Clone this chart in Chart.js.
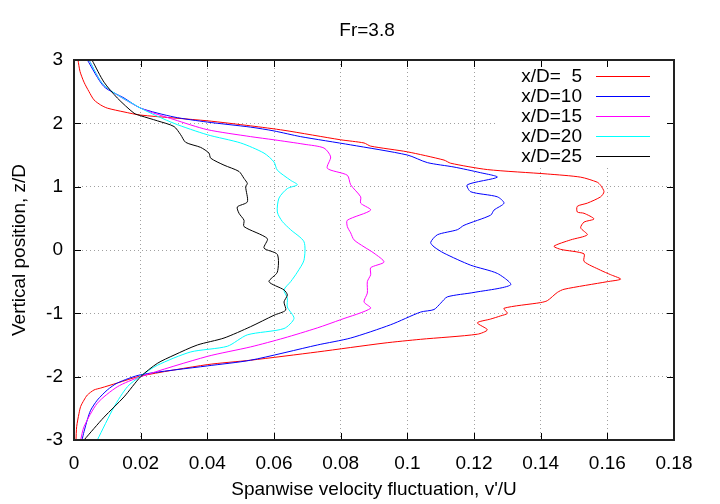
<!DOCTYPE html>
<html>
<head>
<meta charset="utf-8">
<script src="https://cdn.jsdelivr.net/npm/chart.js@4/dist/chart.umd.min.js"></script>
<style>
  html, body { margin: 0; padding: 0; background: #fff; }
  canvas { display: block; }
</style>
</head>
<body>
<canvas id="chart" width="720" height="504"></canvas>
<script>
// profiles of v'/U against z/D as [v'/U, z/D]
const labels = ['x/D=  5', 'x/D=10', 'x/D=15', 'x/D=20', 'x/D=25'];
const colors = ['#ff0000', '#0000ff', '#ff00ff', '#00ffff', '#000000'];

const profile5 = [
  [0.0012, 3.0], [0.0018, 2.82], [0.003, 2.65], [0.0045, 2.50], [0.006, 2.37],
  [0.008, 2.29], [0.010, 2.24], [0.015, 2.18],
  [0.020, 2.13], [0.040, 2.04], [0.053, 1.96], [0.063, 1.89], [0.080, 1.74],
  [0.087, 1.69], [0.089, 1.64], [0.100, 1.55], [0.111, 1.42], [0.113, 1.37],
  [0.124, 1.27], [0.142, 1.20], [0.152, 1.15], [0.157, 1.07], [0.158, 1.02],
  [0.159, 0.92], [0.158, 0.84], [0.154, 0.74], [0.151, 0.69], [0.151, 0.60],
  [0.153, 0.58], [0.156, 0.49], [0.153, 0.44], [0.152, 0.35], [0.154, 0.24],
  [0.149, 0.16], [0.144, 0.06], [0.146, 0.01], [0.153, -0.06], [0.153, -0.18],
  [0.158, -0.32], [0.161, -0.39], [0.164, -0.46], [0.160, -0.50], [0.147, -0.62],
  [0.145, -0.67], [0.142, -0.80], [0.140, -0.83], [0.129, -0.92], [0.130, -1.00],
  [0.128, -1.04], [0.125, -1.09], [0.121, -1.15], [0.124, -1.26], [0.121, -1.33],
  [0.104, -1.41], [0.093, -1.47], [0.073, -1.61], [0.053, -1.74], [0.040, -1.81],
  [0.020, -1.99], [0.013, -2.10], [0.008, -2.18], [0.006, -2.21], [0.004, -2.29],
  [0.003, -2.37], [0.002, -2.47], [0.0015, -2.58], [0.0008, -2.79], [0.0006, -3.0],
];

const profile10 = [
  [0.004, 3.0], [0.009, 2.58], [0.015, 2.40], [0.020, 2.24], [0.030, 2.10],
  [0.040, 2.02], [0.053, 1.94], [0.060, 1.88], [0.068, 1.79], [0.083, 1.66],
  [0.100, 1.50], [0.106, 1.38], [0.114, 1.31], [0.122, 1.22], [0.127, 1.15],
  [0.118, 1.03], [0.119, 0.92], [0.127, 0.84], [0.129, 0.74], [0.126, 0.63],
  [0.125, 0.55], [0.117, 0.39], [0.115, 0.32], [0.109, 0.24], [0.107, 0.12],
  [0.108, 0.05], [0.111, -0.05], [0.119, -0.24], [0.127, -0.37], [0.131, -0.55],
  [0.120, -0.67], [0.112, -0.74], [0.110, -0.84], [0.108, -0.94], [0.104, -0.98],
  [0.095, -1.18], [0.083, -1.39], [0.073, -1.50], [0.053, -1.74], [0.040, -1.83],
  [0.020, -1.97], [0.013, -2.10], [0.010, -2.21], [0.007, -2.37], [0.005, -2.53],
  [0.004, -2.68], [0.003, -2.87], [0.0024, -3.0],
];

const profile15 = [
  [0.0045, 3.0], [0.009, 2.60], [0.020, 2.24], [0.030, 2.06], [0.040, 1.90],
  [0.053, 1.79], [0.060, 1.74], [0.069, 1.67], [0.075, 1.61], [0.077, 1.47],
  [0.076, 1.29], [0.082, 1.18], [0.083, 1.03], [0.086, 0.84], [0.086, 0.74],
  [0.089, 0.63], [0.082, 0.47], [0.082, 0.37], [0.083, 0.27], [0.084, 0.16],
  [0.087, 0.05], [0.090, -0.05], [0.093, -0.19], [0.089, -0.28], [0.089, -0.39],
  [0.088, -0.50], [0.088, -0.68], [0.087, -0.82], [0.089, -0.92], [0.080, -1.10],
  [0.073, -1.23], [0.063, -1.39], [0.053, -1.53], [0.040, -1.68], [0.020, -2.00],
  [0.013, -2.16], [0.007, -2.42], [0.003, -2.79], [0.002, -3.0],
];

const profile20 = [
  [0.0045, 3.0], [0.009, 2.60], [0.020, 2.24], [0.030, 2.00], [0.040, 1.82],
  [0.050, 1.69], [0.057, 1.53], [0.060, 1.39], [0.061, 1.26], [0.065, 1.10],
  [0.067, 1.03], [0.064, 0.97], [0.0615, 0.82], [0.061, 0.60], [0.0625, 0.45],
  [0.065, 0.32], [0.069, 0.13], [0.069, -0.16], [0.067, -0.35], [0.065, -0.50],
  [0.063, -0.63], [0.064, -0.76], [0.064, -0.90], [0.066, -1.08], [0.063, -1.24],
  [0.052, -1.34], [0.046, -1.52], [0.035, -1.61], [0.025, -1.82], [0.020, -1.99],
  [0.016, -2.16], [0.012, -2.48], [0.007, -3.0],
];

const profile25 = [
  [0.0054, 3.0], [0.009, 2.65], [0.013, 2.40], [0.018, 2.16], [0.020, 2.12],
  [0.025, 2.04], [0.030, 1.95], [0.032, 1.82], [0.0335, 1.70], [0.038, 1.62],
  [0.0405, 1.53], [0.041, 1.45], [0.045, 1.34], [0.0495, 1.24], [0.051, 1.13],
  [0.052, 1.05], [0.0515, 1.00], [0.052, 0.76], [0.049, 0.68], [0.0495, 0.58],
  [0.051, 0.47], [0.051, 0.37], [0.058, 0.18], [0.057, 0.03], [0.061, -0.07],
  [0.061, -0.35], [0.0585, -0.50], [0.063, -0.63], [0.064, -0.71], [0.063, -0.82],
  [0.0635, -0.95], [0.060, -1.03], [0.053, -1.21], [0.045, -1.39], [0.037, -1.50],
  [0.030, -1.66], [0.025, -1.79], [0.020, -2.00], [0.015, -2.32], [0.009, -2.64],
  [0.003, -3.0],
];

const profiles = [profile5, profile10, profile15, profile20, profile25];

const FONT = { family: '"Liberation Sans", Arial, sans-serif', size: 19 };
const fontStr = `${FONT.size}px ${FONT.family}`;

// gnuplot style key: text on the left, line sample on the right
const keyPlugin = {
  id: 'key',
  beforeDatasetsDraw(chart) {
    const { ctx, chartArea } = chart;
    ctx.save();
    ctx.fillStyle = '#fff';
    ctx.fillRect(498, chartArea.top + 1, chartArea.right - 499, 106);
    ctx.font = fontStr;
    ctx.textAlign = 'right';
    ctx.textBaseline = 'middle';
    labels.forEach((lab, i) => {
      const y = 76 + i * 20;
      ctx.fillStyle = '#000';
      ctx.fillText(lab, 582, y + 1);
      ctx.strokeStyle = colors[i];
      ctx.lineWidth = 1;
      ctx.beginPath();
      ctx.moveTo(596, y + 0.5);
      ctx.lineTo(650, y + 0.5);
      ctx.stroke();
    });
    ctx.restore();
  },
};

// plot border, inward ticks on all four sides, and the title
const framePlugin = {
  id: 'frame',
  afterDraw(chart) {
    const { ctx, chartArea: a, scales: { x, y } } = chart;
    ctx.save();
    ctx.strokeStyle = '#000';
    ctx.lineWidth = 1;
    ctx.beginPath();
    x.ticks.forEach((t) => {
      const px = Math.round(x.getPixelForValue(t.value)) + 0.5;
      ctx.moveTo(px, a.bottom); ctx.lineTo(px, a.bottom - 7);
      ctx.moveTo(px, a.top); ctx.lineTo(px, a.top + 7);
    });
    y.ticks.forEach((t) => {
      const py = Math.round(y.getPixelForValue(t.value)) + 0.5;
      ctx.moveTo(a.left, py); ctx.lineTo(a.left + 7, py);
      ctx.moveTo(a.right, py); ctx.lineTo(a.right - 7, py);
    });
    ctx.stroke();
    ctx.lineWidth = 2;
    ctx.strokeStyle = '#222';
    ctx.strokeRect(a.left, a.top, a.right - a.left, a.bottom - a.top);
    ctx.fillStyle = '#000';
    ctx.font = fontStr;
    ctx.textAlign = 'center';
    ctx.textBaseline = 'middle';
    ctx.fillText('Fr=3.8', 367, 31);
    ctx.restore();
  },
};

const datasets = profiles.map((p, i) => ({
  label: labels[i],
  data: p.map(([v, z]) => ({ x: v, y: z })),
  borderColor: colors[i],
  borderWidth: 1,
  pointRadius: 0,
  fill: false,
  tension: 0.25,
  order: 5 - i,
}));

new Chart(document.getElementById('chart'), {
  type: 'scatter',
  data: { datasets },
  options: {
    responsive: false,
    animation: false,
    showLine: true,
    layout: { padding: { top: 60, right: 46, left: 0, bottom: 0 } },
    plugins: { legend: { display: false }, tooltip: { enabled: false } },
    scales: {
      x: {
        type: 'linear',
        min: 0,
        max: 0.18,
        afterFit: (s) => { s.height = 64; },
        ticks: {
          stepSize: 0.02,
          padding: 12,
          color: '#000',
          font: FONT,
          callback: (v) => String(+v.toFixed(2)),
        },
        grid: { color: '#a0a0a0', drawTicks: false },
        border: { display: false, dash: [1, 3] },
        title: {
          display: true,
          text: "Spanwise velocity fluctuation, v'/U",
          color: '#000',
          font: FONT,
          padding: { top: 0, bottom: 3 },
        },
      },
      y: {
        type: 'linear',
        min: -3,
        max: 3,
        afterFit: (s) => { s.width = 74; },
        ticks: {
          stepSize: 1,
          padding: 11,
          color: '#000',
          font: FONT,
          callback: (v) => String(v),
        },
        grid: { color: '#a0a0a0', drawTicks: false },
        border: { display: false, dash: [1, 3] },
        title: {
          display: true,
          text: 'Vertical position, z/D',
          color: '#000',
          font: FONT,
          padding: { top: 8, bottom: 0 },
        },
      },
    },
  },
  plugins: [keyPlugin, framePlugin],
});
</script>
</body>
</html>
